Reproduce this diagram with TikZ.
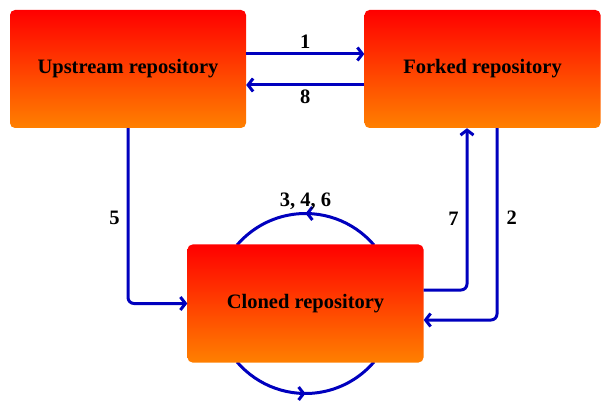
\documentclass[tikz,border=0pt]{standalone}
\usepackage{fontspec}
\setmainfont{Liberation Serif}
\usetikzlibrary{arrows.meta,decorations.markings}
\definecolor{arrblue}{RGB}{0,0,190}
\definecolor{boxorange}{RGB}{255,128,0}
\begin{document}
\begin{tikzpicture}[x=1pt,y=1pt,
  repo/.style={rectangle,rounded corners=5pt,minimum width=236pt,minimum height=118pt,
    inner sep=0pt,top color=red,bottom color=boxorange,draw=none,
    font=\fontsize{20.5}{24}\selectfont\bfseries},
  lab/.style={font=\fontsize{20.5}{24}\selectfont\bfseries,inner sep=2pt},
  arr/.style={draw=arrblue,line width=3pt,-{Straight Barb[length=5pt,width=13pt]},rounded corners=6pt},
  midarr/.style={draw=arrblue,line width=3pt,postaction={decorate},
    decoration={markings,mark=at position 0.5 with {\arrow{Straight Barb[length=5pt,width=13pt]}}}}]
\useasboundingbox (0,0) rectangle (612,407);
\coordinate (cc) at (305.5,103.5);
\draw[midarr] ([shift={(40.5:90)}]cc) arc[start angle=40.5,end angle=139.5,radius=90];
\draw[midarr] ([shift={(220.5:90)}]cc) arc[start angle=220.5,end angle=319.5,radius=90];
\node[repo] (up) at (128,338) {Upstream repository};
\node[repo] (fk) at (482.5,338) {Forked repository};
\node[repo] (cl) at (cc) {Cloned repository};
\node[lab] (l346) at (305.5,206) {3, 4, 6};
\draw[arr] ([yshift=15pt]up.east) -- node[lab,above=2pt] (l1) {1} ([yshift=15pt]fk.west);
\draw[arr] ([yshift=-16pt]fk.west) -- node[lab,below=1pt] (l8) {8} ([yshift=-16pt]up.west -| up.east);
\draw[arr] (up.south) |- node[lab,pos=0.256,left=5pt] (l5) {5} (cl.west);
\draw[arr] ([yshift=13.5pt]cl.east) -| node[lab,pos=0.72,left=5pt] (l7) {7} ([xshift=-15.5pt]fk.south);
\draw[arr] ([xshift=14.5pt]fk.south) |- node[lab,pos=0.234,right=6pt] (l2) {2} ([yshift=-16.5pt]cl.east);
\end{tikzpicture}
\end{document}
